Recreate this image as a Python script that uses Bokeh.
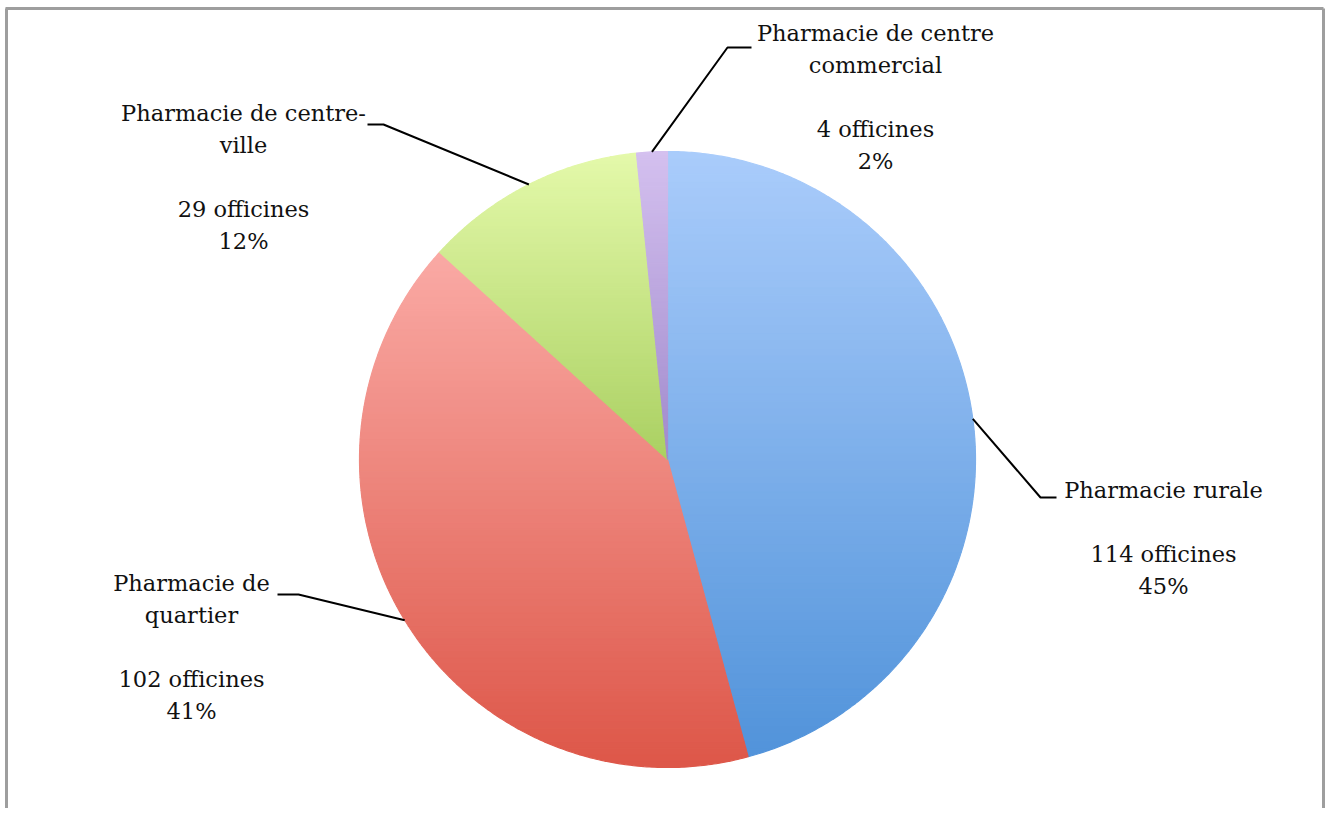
import math
from bokeh.plotting import figure
from bokeh.models import Range1d
from bokeh.core.properties import value
from bokeh.embed import file_html
from bokeh.resources import INLINE

# ---- data ----
categories = ["Pharmacie rurale", "Pharmacie de quartier",
              "Pharmacie de centre-ville", "Pharmacie de centre commercial"]
counts = [114, 102, 29, 4]
percent_labels = ["45%", "41%", "12%", "2%"]
name_lines = [["Pharmacie rurale"],
              ["Pharmacie de", "quartier"],
              ["Pharmacie de centre-", "ville"],
              ["Pharmacie de centre", "commercial"]]

# ---- style / layout ----
top_colors = ["#AACCFB", "#FAAAA5", "#E4F9AA", "#D4C0EF"]
bot_colors = ["#5193DA", "#DD5648", "#AAD062", "#A08ACC"]
CX, CY, R = 667.0, 459.0, 308.0
FONT = "DejaVu Serif"
FS = "22.5px"
LH = 32
# label block: centre x, y of first line (middle); blank line between name and count
label_pos = [(1163, 489), (191, 582), (243, 112), (875, 32)]
# leader elbow points (elbow, end)
leaders = [[(1040, 497), (1056, 497)],
           [(298, 594), (277, 594)],
           [(383, 124), (367, 124)],
           [(727, 47), (751, 47)]]

W, H = 1325, 808
p = figure(width=W, height=H, output_backend="svg", toolbar_location=None,
           x_range=Range1d(0, W), y_range=Range1d(H, 0),
           min_border=0, outline_line_color=None)
p.axis.visible = False
p.grid.visible = False
p.background_fill_color = "white"


def hex2rgb(h):
    h = h.lstrip("#")
    return [int(h[i:i + 2], 16) for i in (0, 2, 4)]


def mix(c1, c2, t):
    a, b = hex2rgb(c1), hex2rgb(c2)
    return "#%02x%02x%02x" % tuple(int(round(a[i] + (b[i] - a[i]) * t)) for i in range(3))


def clip_y(poly, y0, y1):
    def clip(pts, inside, inter):
        out = []
        n = len(pts)
        for i in range(n):
            cur, prev = pts[i], pts[i - 1]
            if inside(cur):
                if not inside(prev):
                    out.append(inter(prev, cur))
                out.append(cur)
            elif inside(prev):
                out.append(inter(prev, cur))
        return out

    def inter_at(yv):
        def f(a, b):
            t = (yv - a[1]) / (b[1] - a[1])
            return (a[0] + t * (b[0] - a[0]), yv)
        return f
    pts = clip(poly, lambda q: q[1] >= y0, inter_at(y0))
    if not pts:
        return pts
    pts = clip(pts, lambda q: q[1] <= y1, inter_at(y1))
    return pts


total = sum(counts)
ang = 90.0
mids = []
for i, c in enumerate(counts):
    sweep = c / total * 360.0
    a0, a1 = ang, ang - sweep
    mids.append((a0 + a1) / 2)
    n = max(4, int(sweep * 2))
    poly = [(CX, CY)]
    for k in range(n + 1):
        a = math.radians(a0 + (a1 - a0) * k / n)
        poly.append((CX + R * math.cos(a), CY - R * math.sin(a)))
    ys = [q[1] for q in poly]
    ymin, ymax = min(ys), max(ys)
    nb = 80
    xs_list, ys_list, cols = [], [], []
    for b in range(nb):
        y0 = ymin + (ymax - ymin) * b / nb
        y1 = ymin + (ymax - ymin) * (b + 1) / nb
        seg = clip_y(poly, y0, y1)
        if len(seg) < 3:
            continue
        xs_list.append([q[0] for q in seg])
        ys_list.append([q[1] for q in seg])
        cols.append(mix(top_colors[i], bot_colors[i], (b + 0.5) / nb))
    p.patches(xs_list, ys_list, fill_color=cols, line_color=cols, line_width=1.2)
    ang = a1

# leader lines and labels
for i in range(len(counts)):
    a = math.radians(mids[i])
    sx, sy = CX + R * math.cos(a), CY - R * math.sin(a)
    lx = [sx] + [q[0] for q in leaders[i]]
    ly = [sy] + [q[1] for q in leaders[i]]
    p.line(lx, ly, line_color="black", line_width=2)
    lines = name_lines[i] + [""] + ["%d officines" % counts[i], percent_labels[i]]
    cx, y = label_pos[i]
    tx, ty, tt = [], [], []
    for j, t in enumerate(lines):
        if t:
            tx.append(cx)
            ty.append(y + j * LH)
            tt.append(t)
    p.text(tx, ty, text=tt, text_font=value(FONT), text_font_size=FS,
           text_align="center", text_baseline="middle", text_color="#111111")

# chart border (left, top, right)
bc = "#9E9E9E"
p.line([6, 6], [8, H], line_color=bc, line_width=3)
p.line([5, W - 2], [8, 8], line_color=bc, line_width=3)
p.line([W - 2, W - 2], [8, H], line_color=bc, line_width=3)

open("out.html", "w").write(file_html(p, INLINE))
